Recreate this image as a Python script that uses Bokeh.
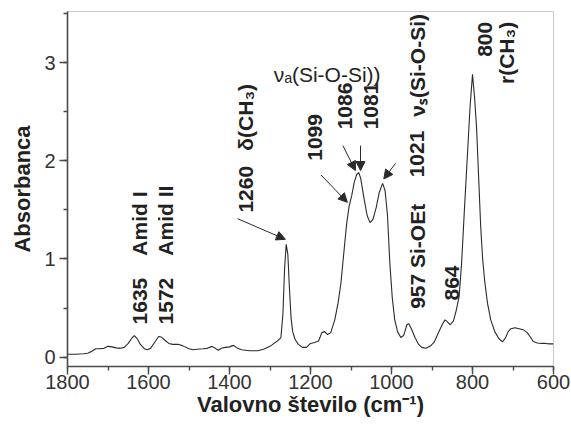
import math
from bokeh.plotting import figure
from bokeh.models import Range1d, SingleIntervalTicker, Arrow, NormalHead, ColumnDataSource
from bokeh.core.properties import value
from bokeh.embed import file_html
from bokeh.resources import INLINE

# ---- spectrum ----
wavenumber = [1800, 1780, 1760, 1750, 1740, 1730, 1720, 1710, 1700, 1690, 1680, 1670, 1660,
              1650, 1640, 1635, 1628, 1620, 1610, 1603, 1595, 1585, 1575, 1568, 1560, 1550,
              1540, 1525, 1515, 1500, 1490, 1480, 1465, 1455, 1443, 1435, 1428, 1420, 1410,
              1400, 1390, 1380, 1370, 1350, 1330, 1316, 1300, 1290, 1280, 1273, 1268, 1264,
              1260, 1256, 1252, 1248, 1244, 1238, 1230, 1220, 1210, 1200, 1190, 1180, 1172,
              1165, 1158, 1150, 1140, 1132, 1125, 1118, 1111, 1105, 1098, 1092, 1086, 1081,
              1076, 1068, 1060, 1053, 1046, 1038, 1030, 1022, 1016, 1010, 1004, 998, 992,
              985, 977, 970, 962, 957, 950, 942, 933, 925, 915, 905, 895, 885, 875, 868,
              862, 855, 847, 840, 833, 827, 820, 812, 806, 800, 795, 790, 785, 780, 775,
              770, 763, 755, 745, 735, 726, 718, 712, 705, 695, 685, 675, 665, 658, 650,
              640, 630, 620, 610, 600]
absorbance = [0.03, 0.03, 0.035, 0.04, 0.06, 0.085, 0.085, 0.09, 0.11, 0.105, 0.095, 0.09, 0.10,
              0.14, 0.20, 0.22, 0.19, 0.13, 0.085, 0.075, 0.09, 0.15, 0.21, 0.205, 0.175, 0.14,
              0.13, 0.13, 0.115, 0.085, 0.075, 0.08, 0.085, 0.09, 0.11, 0.09, 0.07, 0.09, 0.10,
              0.105, 0.12, 0.09, 0.075, 0.065, 0.065, 0.08, 0.11, 0.14, 0.17, 0.20, 0.45, 0.90,
              1.15, 1.05, 0.70, 0.40, 0.26, 0.18, 0.13, 0.10, 0.10, 0.14, 0.15, 0.165, 0.25,
              0.26, 0.23, 0.25, 0.38, 0.55, 0.75, 1.05, 1.35, 1.53, 1.65, 1.78, 1.86, 1.88,
              1.82, 1.62, 1.44, 1.37, 1.40, 1.52, 1.68, 1.77, 1.70, 1.45, 0.95, 0.60, 0.38,
              0.26, 0.20, 0.22, 0.33, 0.34, 0.28, 0.20, 0.13, 0.10, 0.09, 0.11, 0.15, 0.24, 0.33, 0.38,
              0.36, 0.33, 0.37, 0.48, 0.62, 0.95, 1.50, 2.10, 2.55, 2.88, 2.65, 2.34, 1.85, 1.35, 1.00,
              0.78, 0.55, 0.38, 0.26, 0.19, 0.155, 0.20, 0.26, 0.29, 0.30, 0.29, 0.28, 0.25, 0.21, 0.16,
              0.145, 0.14, 0.14, 0.135, 0.135]

# ---- axis ----
x_label = "Valovno število (cm⁻¹)"
y_label = "Absorbanca"

# ---- annotations (data coordinates) ----
up_text = ["1635", "Amid I", "1572", "Amid II", "1260", "δ(CH₃)", "1099", "1086", "1081",
           "1021", "νₛ(Si-O-Si)", "957 Si-OEt", "864"]
up_x = [1621, 1621, 1557, 1557, 1360, 1360, 1188, 1116, 1051, 937, 937, 937, 851]
up_y = [0.333, 1.034, 0.333, 1.034, 1.472, 2.103, 2.0, 2.32, 2.32, 1.831, 2.449, 0.492, 0.577]

top_text = ["800", "r(CH₃)"]
top_x = [768, 717]
top_y = [3.415, 3.415]

flat_text = ["νₐ(Si-O-Si))"]
flat_x = [1291]
flat_y = [2.876]

arrow_x0 = [1380, 1174, 1120, 1076.5, 990]
arrow_y0 = [1.41, 1.855, 2.154, 2.154, 1.974]
arrow_x1 = [1262, 1109, 1089, 1076.5, 1019]
arrow_y1 = [1.20, 1.577, 1.90, 1.90, 1.815]

FONT = "Liberation Sans"
INK = "#2a2a2a"
AXIS = "#4a4a4a"

p = figure(width=571, height=428, output_backend="svg", toolbar_location=None,
           x_range=Range1d(1800, 600), y_range=Range1d(-0.095, 3.52))
p.min_border_left = 67
p.min_border_right = 18
p.min_border_top = 11
p.min_border_bottom = 62
p.background_fill_color = "white"
p.border_fill_color = "white"
p.outline_line_color = "#c8c8c8"
p.outline_line_width = 1
p.xgrid.visible = False
p.ygrid.visible = False

p.xaxis.ticker = SingleIntervalTicker(interval=200, num_minor_ticks=2)
p.yaxis.ticker = SingleIntervalTicker(interval=1, num_minor_ticks=2)
for ax in (p.xaxis, p.yaxis):
    ax.axis_line_color = AXIS
    ax.axis_line_width = 1.6
    ax.major_tick_line_color = AXIS
    ax.minor_tick_line_color = AXIS
    ax.major_tick_line_width = 1.4
    ax.minor_tick_line_width = 1.4
    ax.major_tick_out = 8
    ax.major_tick_in = 0
    ax.minor_tick_out = 4
    ax.minor_tick_in = 0
    ax.major_label_text_font = FONT
    ax.major_label_text_font_size = "20px"
    ax.major_label_text_color = "#333333"
    ax.axis_label_text_font = FONT
    ax.axis_label_text_font_size = "22px"
    ax.axis_label_text_font_style = "bold"
    ax.axis_label_text_color = "#222222"
p.xaxis.axis_label = x_label
p.yaxis.axis_label = y_label
p.xaxis.major_label_standoff = 0
p.xaxis.axis_label_standoff = 0
p.yaxis.major_label_standoff = 4
p.yaxis.axis_label_standoff = 6

p.line(wavenumber, absorbance, line_color=INK, line_width=1.1)

arrows = ColumnDataSource(dict(x0=arrow_x0, y0=arrow_y0, x1=arrow_x1, y1=arrow_y1))
p.add_layout(Arrow(source=arrows, x_start="x0", y_start="y0", x_end="x1", y_end="y1",
                   line_color=INK, line_width=1,
                   end=NormalHead(size=9, fill_color=INK, line_color=INK, line_width=1)))

p.text(x=up_x, y=up_y, text=up_text, angle=math.pi / 2, text_align="left",
       text_baseline="middle", text_font=value(FONT), text_font_size="21px",
       text_font_style="bold", text_color="#222222")
p.text(x=top_x, y=top_y, text=top_text, angle=math.pi / 2, text_align="right",
       text_baseline="middle", text_font=value(FONT), text_font_size="21px",
       text_font_style="bold", text_color="#222222")
p.text(x=flat_x, y=flat_y, text=flat_text, text_align="left",
       text_baseline="alphabetic", text_font=value(FONT), text_font_size="21px",
       text_font_style="normal", text_color="#222222")

open("out.html", "w").write(file_html(p, INLINE))
